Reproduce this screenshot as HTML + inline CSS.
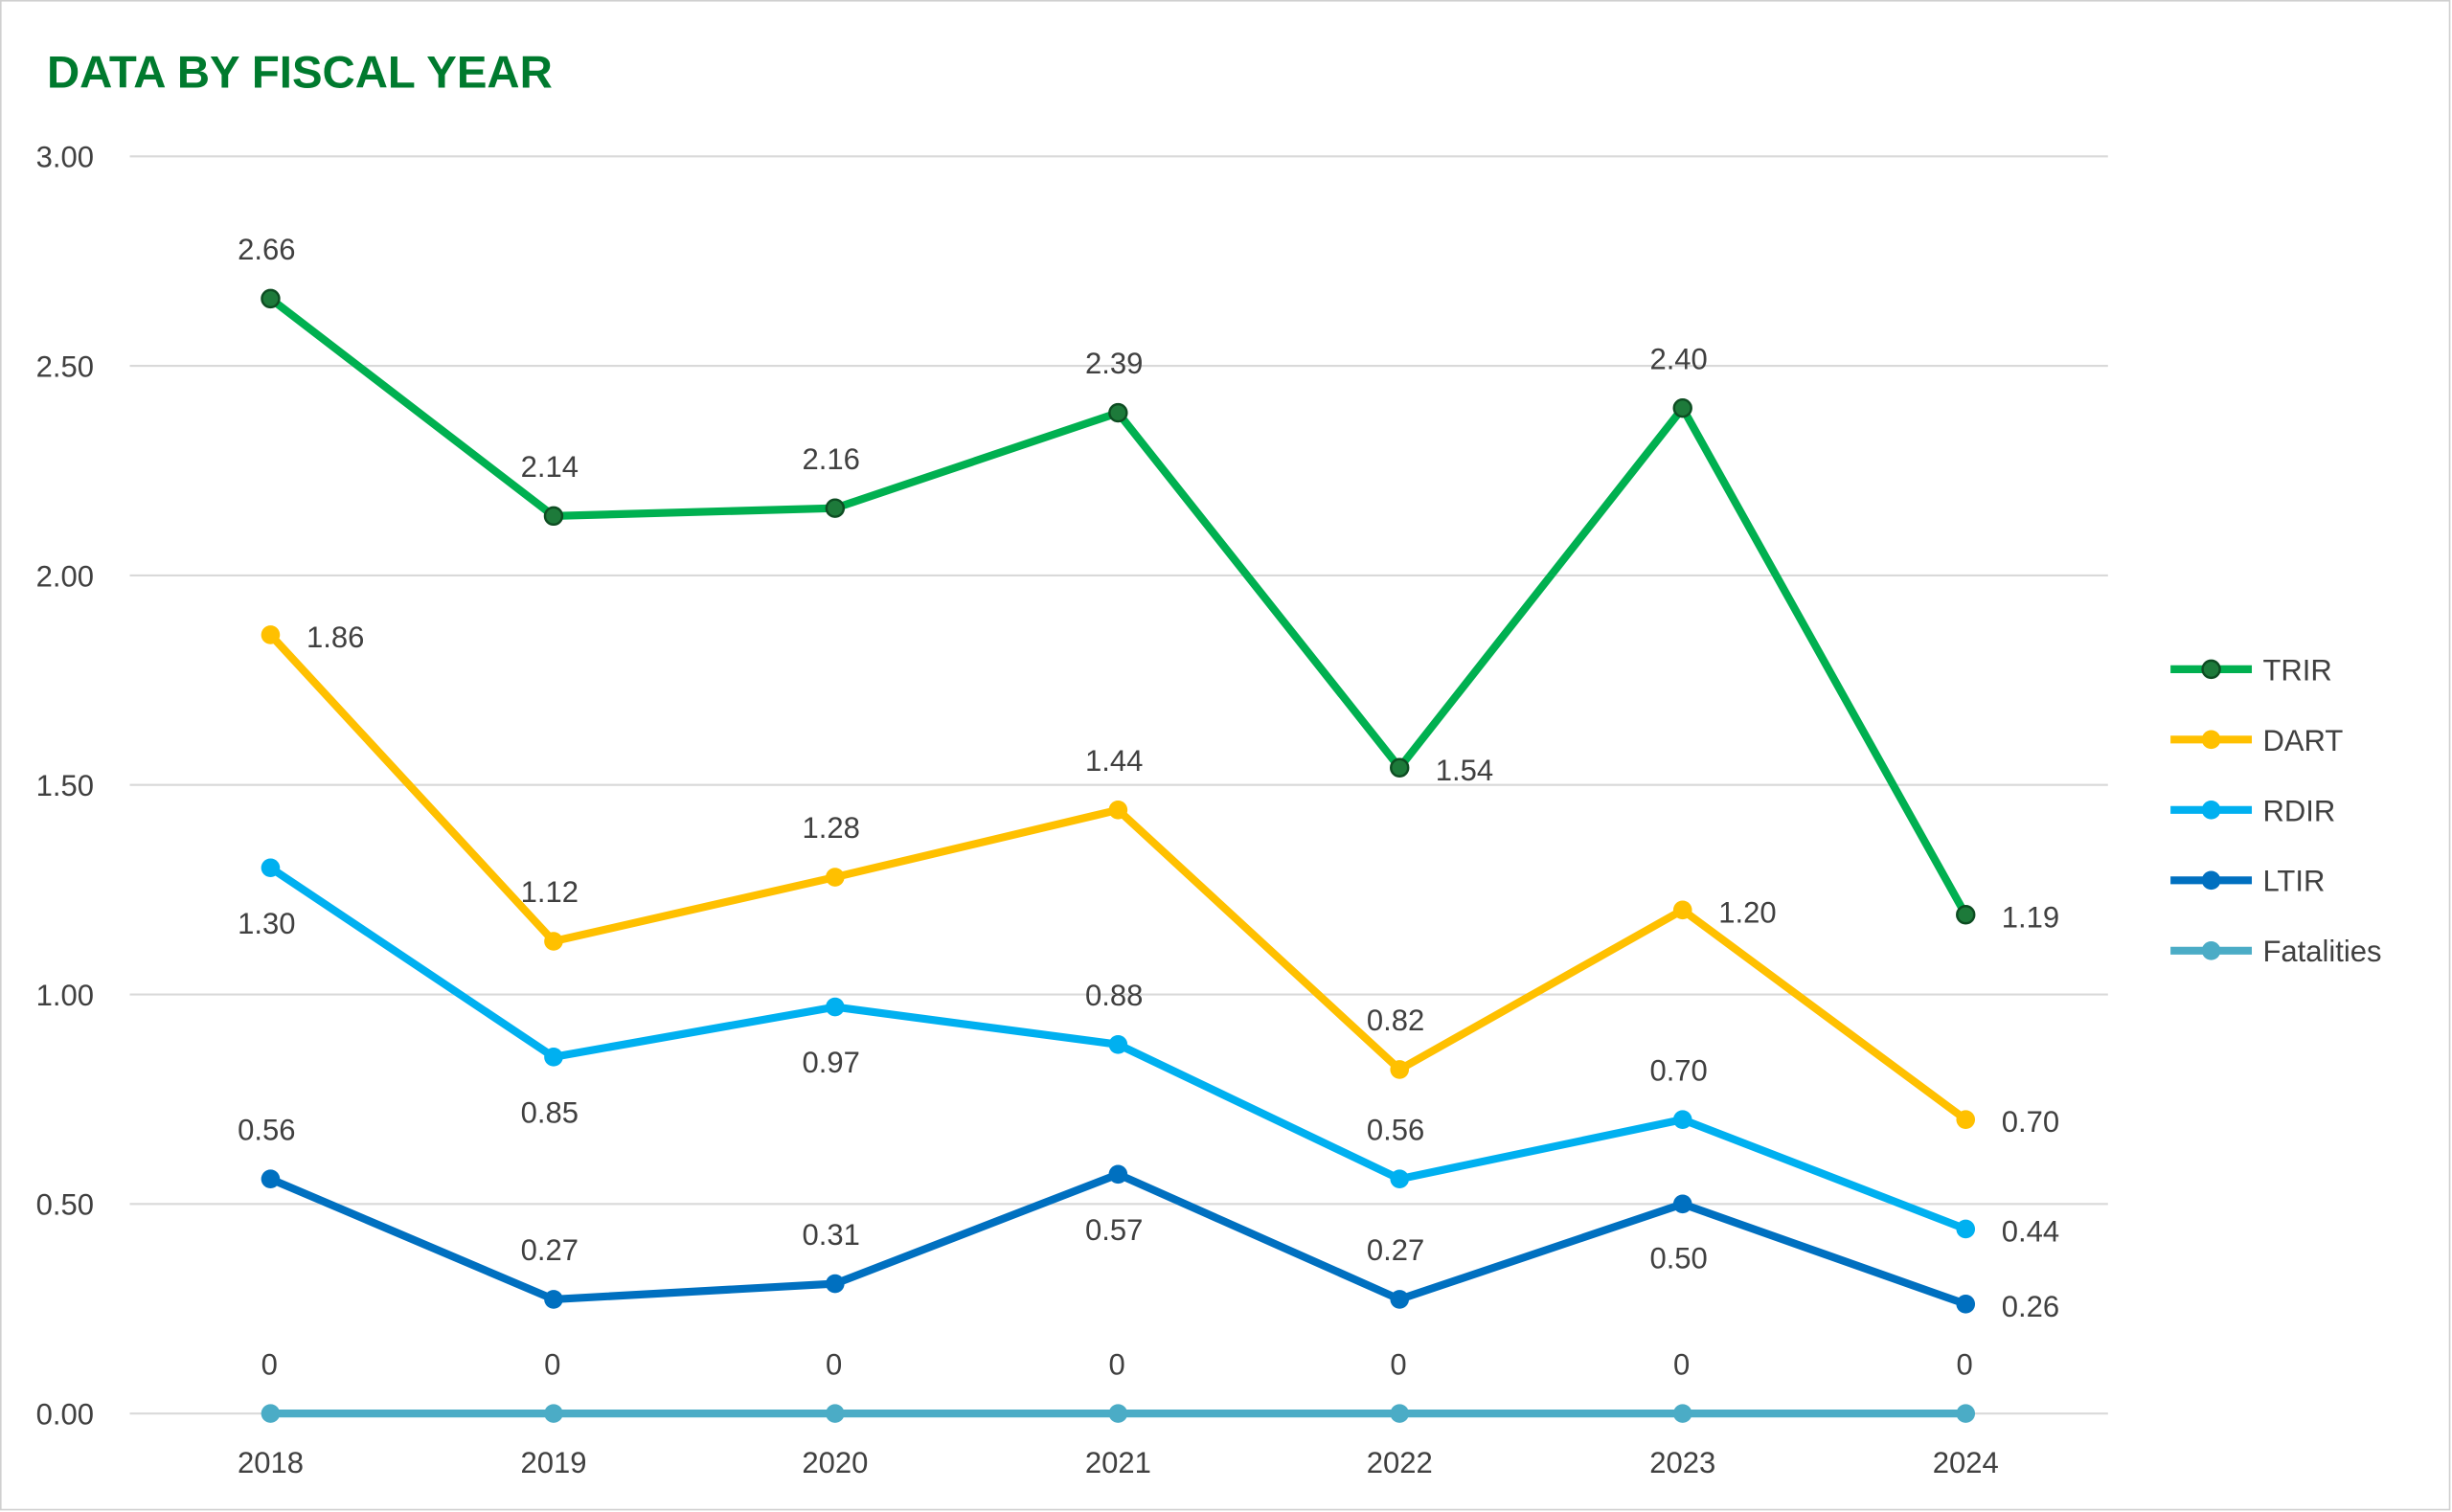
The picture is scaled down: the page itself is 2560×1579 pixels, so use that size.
<!DOCTYPE html>
<html><head><meta charset="utf-8"><style>
html,body{margin:0;padding:0;background:#fff}
svg{display:block}
text{font-family:"Liberation Sans",sans-serif;fill:#404040}
</style></head><body>
<svg width="2560" height="1579" viewBox="0 0 1568 967" preserveAspectRatio="none">
<rect x="0.5" y="0.5" width="1566" height="965" fill="#fff" stroke="#d0d0d0"/>
<text x="30" y="56" style="font-size:29px;font-weight:bold;fill:#007a2e">DATA BY FISCAL YEAR</text>
<g stroke="#d9d9d9" stroke-width="1.3">
<line x1="83" y1="100" x2="1348" y2="100"/><line x1="83" y1="234" x2="1348" y2="234"/>
<line x1="83" y1="368" x2="1348" y2="368"/><line x1="83" y1="502" x2="1348" y2="502"/>
<line x1="83" y1="636" x2="1348" y2="636"/><line x1="83" y1="770" x2="1348" y2="770"/>
<line x1="83" y1="904" x2="1348" y2="904"/>
</g>
<g font-size="19" text-anchor="end">
<text x="60" y="107">3.00</text><text x="60" y="241">2.50</text><text x="60" y="375">2.00</text>
<text x="60" y="509">1.50</text><text x="60" y="643">1.00</text><text x="60" y="777">0.50</text><text x="60" y="911">0.00</text>
</g>
<g font-size="19" text-anchor="middle">
<text x="173" y="942">2018</text><text x="354" y="942">2019</text><text x="534" y="942">2020</text>
<text x="715" y="942">2021</text><text x="895" y="942">2022</text><text x="1076" y="942">2023</text><text x="1257" y="942">2024</text>
</g>
<!-- Fatalities -->
<polyline fill="none" stroke="#4bacc6" stroke-width="5" points="173,904 354,904 534,904 715,904 895,904 1076,904 1257,904"/>
<g fill="#4bacc6"><circle cx="173" cy="904" r="6"/><circle cx="354" cy="904" r="6"/><circle cx="534" cy="904" r="6"/><circle cx="715" cy="904" r="6"/><circle cx="895" cy="904" r="6"/><circle cx="1076" cy="904" r="6"/><circle cx="1257" cy="904" r="6"/></g>
<!-- LTIR -->
<polyline fill="none" stroke="#0070c0" stroke-width="5" points="173,754 354,831 534,821 715,751 895,831 1076,770 1257,834"/>
<g fill="#0070c0"><circle cx="173" cy="754" r="6"/><circle cx="354" cy="831" r="6"/><circle cx="534" cy="821" r="6"/><circle cx="715" cy="751" r="6"/><circle cx="895" cy="831" r="6"/><circle cx="1076" cy="770" r="6"/><circle cx="1257" cy="834" r="6"/></g>
<!-- RDIR -->
<polyline fill="none" stroke="#00b0f0" stroke-width="5" points="173,555 354,676 534,644 715,668 895,754 1076,716 1257,786"/>
<g fill="#00b0f0"><circle cx="173" cy="555" r="6"/><circle cx="354" cy="676" r="6"/><circle cx="534" cy="644" r="6"/><circle cx="715" cy="668" r="6"/><circle cx="895" cy="754" r="6"/><circle cx="1076" cy="716" r="6"/><circle cx="1257" cy="786" r="6"/></g>
<!-- DART -->
<polyline fill="none" stroke="#ffc000" stroke-width="5" points="173,406 354,602 534,561 715,518 895,684 1076,582 1257,716"/>
<g fill="#ffc000"><circle cx="173" cy="406" r="6"/><circle cx="354" cy="602" r="6"/><circle cx="534" cy="561" r="6"/><circle cx="715" cy="518" r="6"/><circle cx="895" cy="684" r="6"/><circle cx="1076" cy="582" r="6"/><circle cx="1257" cy="716" r="6"/></g>
<!-- TRIR -->
<polyline fill="none" stroke="#00b050" stroke-width="5" points="173,191 354,330 534,325 715,264 895,491 1076,261 1257,585"/>
<g fill="#1d7a3a" stroke="#0d4d22" stroke-width="1.5"><circle cx="173" cy="191" r="5.5"/><circle cx="354" cy="330" r="5.5"/><circle cx="534" cy="325" r="5.5"/><circle cx="715" cy="264" r="5.5"/><circle cx="895" cy="491" r="5.5"/><circle cx="1076" cy="261" r="5.5"/><circle cx="1257" cy="585" r="5.5"/></g>
<g font-size="19">
<text x="152" y="166">2.66</text><text x="333" y="305">2.14</text><text x="513" y="300">2.16</text><text x="694" y="239">2.39</text><text x="918" y="499">1.54</text><text x="1055" y="236">2.40</text><text x="1280" y="593">1.19</text>
<text x="196" y="414">1.86</text><text x="333" y="577">1.12</text><text x="513" y="536">1.28</text><text x="694" y="493">1.44</text><text x="874" y="659">0.82</text><text x="1099" y="590">1.20</text><text x="1280" y="724">0.70</text>
<text x="152" y="597">1.30</text><text x="333" y="718">0.85</text><text x="513" y="686">0.97</text><text x="694" y="643">0.88</text><text x="874" y="729">0.56</text><text x="1055" y="691">0.70</text><text x="1280" y="794">0.44</text>
<text x="152" y="729">0.56</text><text x="333" y="806">0.27</text><text x="513" y="796">0.31</text><text x="694" y="793">0.57</text><text x="874" y="806">0.27</text><text x="1055" y="811">0.50</text><text x="1280" y="842">0.26</text>
<text x="167" y="879">0</text><text x="348" y="879">0</text><text x="528" y="879">0</text><text x="709" y="879">0</text><text x="889" y="879">0</text><text x="1070" y="879">0</text><text x="1251" y="879">0</text>
</g>
<!-- Legend -->
<g stroke-width="5">
<line x1="1388" y1="428" x2="1440" y2="428" stroke="#00b050"/>
<line x1="1388" y1="473" x2="1440" y2="473" stroke="#ffc000"/>
<line x1="1388" y1="518" x2="1440" y2="518" stroke="#00b0f0"/>
<line x1="1388" y1="563" x2="1440" y2="563" stroke="#0070c0"/>
<line x1="1388" y1="608" x2="1440" y2="608" stroke="#4bacc6"/>
</g>
<circle cx="1414" cy="428" r="5.5" fill="#1d7a3a" stroke="#0d4d22" stroke-width="1.5"/>
<circle cx="1414" cy="473" r="6" fill="#ffc000"/>
<circle cx="1414" cy="518" r="6" fill="#00b0f0"/>
<circle cx="1414" cy="563" r="6" fill="#0070c0"/>
<circle cx="1414" cy="608" r="6" fill="#4bacc6"/>
<g font-size="19">
<text x="1447" y="435">TRIR</text><text x="1447" y="480">DART</text><text x="1447" y="525">RDIR</text><text x="1447" y="570">LTIR</text><text x="1447" y="615">Fatalities</text>
</g>
</svg>
</body></html>
